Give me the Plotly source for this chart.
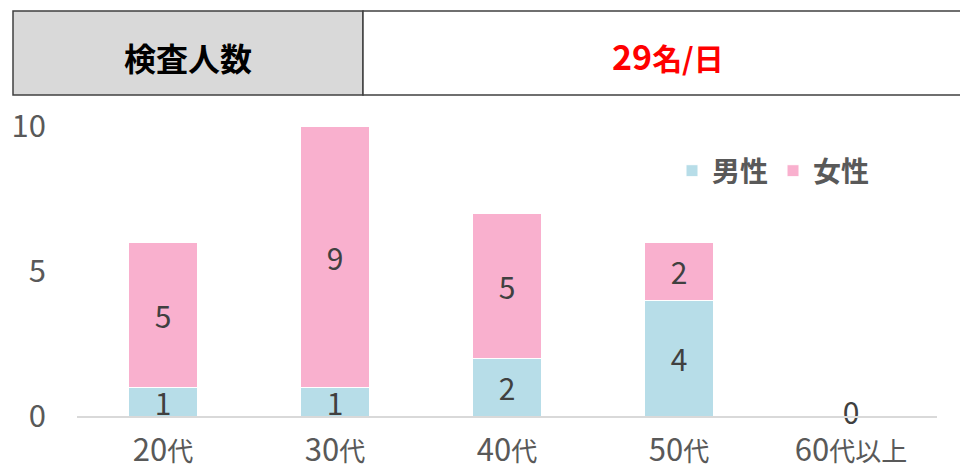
import re
import plotly.graph_objects as go

categories = ["20代", "30代", "40代", "50代", "60代以上"]
male = [1, 1, 2, 4, 0]
female = [5, 9, 5, 2, 0]
y_ticks = [0, 5, 10]
header_label = "検査人数"
header_value = "29名/日"

FONT = "Noto Sans CJK JP"
MALE_C = "#B7DDE8"
FEMALE_C = "#F9B0CE"

# page has an 8px body margin; work in screen pixels and subtract it
OFF = 8
SW, SH = 968, 469
PL, PR, PT, PB = 77, 937, 126, 416  # plot area in screen px
W, H = SW - OFF, SH - OFF
pw, ph = PR - PL, PB - PT

def px(x):
    return (x - PL) / pw

def py(y):
    return (PB - y) / ph

def big_digits(s, size):
    return re.sub(r"(\d+)", lambda m: f'<span style="font-size:{size}px">{m.group(1)}</span>', s)

fig = go.Figure()
for name, vals, col in [("男性", male, MALE_C), ("女性", female, FEMALE_C)]:
    fig.add_trace(go.Bar(
        x=categories, y=vals, name=name,
        marker=dict(color=col, line=dict(color="white", width=1)),
        text=[str(v) if v else "" for v in vals], textposition="inside",
        insidetextanchor="middle", constraintext="none", textangle=0,
        textfont=dict(size=30, color="#404040", family=FONT),
    ))
# zero-value labels at baseline
zero_cats = [c for c, m, f in zip(categories, male, female) if m + f == 0]
fig.add_trace(go.Scatter(
    x=zero_cats, y=[0] * len(zero_cats), mode="text",
    text=["0"] * len(zero_cats), textposition="middle center",
    textfont=dict(size=30, color="#404040", family=FONT),
    showlegend=False, hoverinfo="skip", cliponaxis=False,
))

# header table
x0, xd, x1 = px(13), px(363), px(980)
yt, yb = py(11), py(95)
fig.add_shape(type="rect", xref="paper", yref="paper", x0=x0, x1=xd, y0=yb, y1=yt,
              fillcolor="#D9D9D9", line=dict(color="#404040", width=1.5), layer="below")
fig.add_shape(type="rect", xref="paper", yref="paper", x0=xd, x1=x1, y0=yb, y1=yt,
              fillcolor="white", line=dict(color="#404040", width=1.5), layer="below")
fig.add_annotation(xref="paper", yref="paper", x=px(188), y=py(57),
                   xanchor="center", yanchor="middle",
                   text="<b>" + header_label + "</b>", showarrow=False,
                   font=dict(size=32, color="black", family=FONT))
fig.add_annotation(xref="paper", yref="paper", x=px(668), y=py(56),
                   xanchor="center", yanchor="middle",
                   text="<b>" + big_digits(header_value, 34) + "</b>", showarrow=False,
                   font=dict(size=30, color="#FF0000", family=FONT))

fig.update_layout(
    width=W, height=H,
    margin=dict(l=PL - OFF, r=W - (PR - OFF), t=PT - OFF, b=H - (PB - OFF), autoexpand=False),
    barmode="stack", bargap=0.6,
    plot_bgcolor="white", paper_bgcolor="white",
    font=dict(family=FONT, color="#595959"),
    legend=dict(orientation="h", x=px(672), y=py(171), xanchor="left", yanchor="middle",
                font=dict(size=28, color="#595959", family=FONT, weight="bold"),
                itemwidth=30, traceorder="normal", bgcolor="rgba(0,0,0,0)"),
    xaxis=dict(showgrid=False, showline=True, linecolor="#D9D9D9", linewidth=1.5,
               tickmode="array", tickvals=categories, automargin=False,
               ticktext=[big_digits(c, 31) for c in categories],
               tickfont=dict(size=26, color="#595959"), ticks="", ticklabelstandoff=12),
    yaxis=dict(range=[0, 10], tickvals=y_ticks, showgrid=False, zeroline=False,
               showline=False, tickfont=dict(size=31, color="#595959"),
               ticklabelstandoff=30, automargin=False),
    showlegend=True,
)

fig.write_html("out.html")
